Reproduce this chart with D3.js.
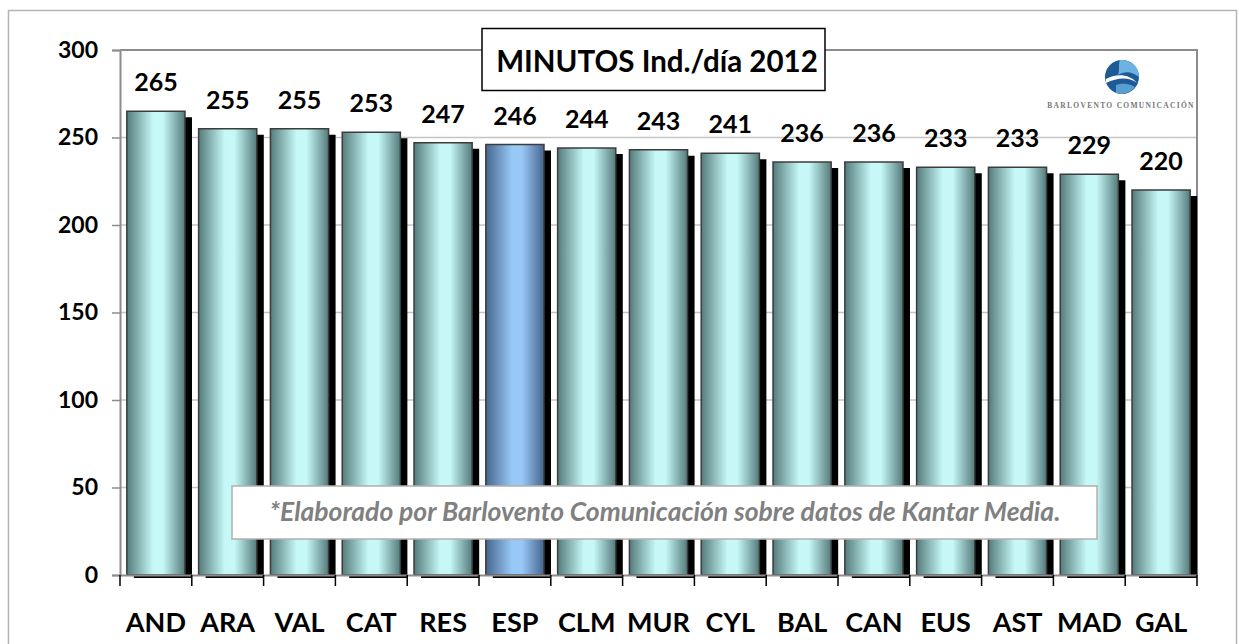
<!DOCTYPE html>
<html><head><meta charset="utf-8">
<script src="https://cdn.jsdelivr.net/npm/d3@7"></script>
<style>body{margin:0;background:#fff}svg{display:block}</style>
</head><body>
<script>
const categories = ["AND","ARA","VAL","CAT","RES","ESP","CLM","MUR","CYL","BAL","CAN","EUS","AST","MAD","GAL"];
const values = [265,255,255,253,247,246,244,243,241,236,236,233,233,229,220];
const highlight = ["ESP"];
const yTicks = [0,50,100,150,200,250,300];
const titleText = "MINUTOS Ind./día 2012";
const noteText = "*Elaborado por Barlovento Comunicación sobre datos de Kantar Media.";
const logoText = "BARLOVENTO COMUNICACIÓN";

const W = 1239, H = 644;
const m = {left:120, right:W-1197, top:50, bottom:H-575};
const svg = d3.select("body").append("svg").attr("width",W).attr("height",H);
const font = "Lato, 'Open Sans', sans-serif";

const defs = svg.append("defs");
function grad(id, edge, mid){
  const g = defs.append("linearGradient").attr("id",id).attr("x1","0%").attr("x2","100%").attr("y1","0%").attr("y2","0%");
  g.append("stop").attr("offset","0%").attr("stop-color",edge);
  g.append("stop").attr("offset","45%").attr("stop-color",mid);
  g.append("stop").attr("offset","62%").attr("stop-color",mid);
  g.append("stop").attr("offset","100%").attr("stop-color",edge);
}
grad("gTeal","#557b7b","#c6f8f8");
grad("gBlue","#46668e","#98c8f6");

// outer frame
svg.append("rect").attr("x",8.5).attr("y",10.5).attr("width",1228).attr("height",650)
  .attr("fill","#fff").attr("stroke","#b4b4b4").attr("stroke-width",1.5);

const x = d3.scaleBand().domain(categories).range([m.left, W-m.right]).paddingInner(0).paddingOuter(0);
const y = d3.scaleLinear().domain([0,300]).range([H-m.bottom, m.top]);

// gridlines
svg.append("g").selectAll("line").data(yTicks.filter(t=>t>0 && t<300)).join("line")
  .attr("x1",m.left).attr("x2",W-m.right).attr("y1",d=>y(d)).attr("y2",d=>y(d))
  .attr("stroke","#c4c4c4").attr("stroke-width",1.5);
// plot border top & right
svg.append("path").attr("d",`M${m.left},${y(300)}H${W-m.right}V${y(0)}`)
  .attr("fill","none").attr("stroke","#8c8c8c").attr("stroke-width",2);

const bw = x.bandwidth()*0.81;
const off = (x.bandwidth()-bw)/2;
const bars = svg.append("g").selectAll("g").data(categories).join("g");
bars.append("rect").attr("x",d=>x(d)+off+7).attr("y",(d,i)=>y(values[i])+6)
  .attr("width",bw).attr("height",(d,i)=>y(0)-y(values[i])-3).attr("fill","#000");
bars.append("rect").attr("x",d=>x(d)+off).attr("y",(d,i)=>y(values[i]))
  .attr("width",bw).attr("height",(d,i)=>y(0)-y(values[i]))
  .attr("fill",d=>highlight.includes(d)?"url(#gBlue)":"url(#gTeal)")
  .attr("stroke","#3c3c3c").attr("stroke-width",1.5);

// axes
const ya = svg.append("g").attr("transform",`translate(${m.left},0)`)
  .call(d3.axisLeft(y).tickValues(yTicks).tickSize(8).tickPadding(14));
ya.select(".domain").attr("stroke","#8c8c8c").attr("stroke-width",2);
ya.selectAll(".tick line").attr("stroke","#8c8c8c").attr("stroke-width",1.5);
ya.selectAll("text").attr("font-family",font).attr("font-weight","bold").attr("font-size",23).attr("fill","#000");

const xa = svg.append("g").attr("transform",`translate(0,${y(0)})`)
  .call(d3.axisBottom(x).tickSize(0).tickPadding(38));
xa.select(".domain").attr("stroke","#8c8c8c").attr("stroke-width",2);
xa.selectAll("text").attr("font-family",font).attr("font-weight","bold").attr("font-size",27).attr("fill","#000");
svg.append("g").selectAll("line").data(categories.concat(["_end"])).join("line")
  .attr("x1",(d,i)=>m.left+i*x.step()).attr("x2",(d,i)=>m.left+i*x.step())
  .attr("y1",y(0)).attr("y2",y(0)+11).attr("stroke","#000").attr("stroke-width",1.5);

// value labels
svg.append("g").selectAll("text").data(categories).join("text")
  .attr("x",d=>x(d)+x.bandwidth()/2).attr("y",(d,i)=>y(values[i])-20)
  .attr("text-anchor","middle").attr("font-family",font).attr("font-weight","bold").attr("font-size",25)
  .attr("fill","#000").text((d,i)=>values[i]);

// title box
svg.append("rect").attr("x",482).attr("y",28.5).attr("width",343).attr("height",62)
  .attr("fill","#fff").attr("stroke","#000").attr("stroke-width",1.5);
svg.append("text").attr("x",657).attr("y",72).attr("text-anchor","middle")
  .attr("font-family",font).attr("font-weight","bold").attr("font-size",29.5).attr("fill","#000").text(titleText);

// note box
svg.append("rect").attr("x",232).attr("y",486).attr("width",865).attr("height",53)
  .attr("fill","#fff").attr("stroke","#b0b0b0").attr("stroke-width",1.5);
svg.append("text").attr("x",665).attr("y",521).attr("text-anchor","middle")
  .attr("font-family",font).attr("font-weight","bold").attr("font-style","italic").attr("font-size",26.5)
  .attr("fill","#808080").text(noteText);

// logo
const lg = svg.append("g").attr("transform","translate(1122,77)");
lg.append("circle").attr("r",17).attr("fill","#1d5a96");
lg.append("path").attr("d","M-2,-17 A17,17 0 0 1 17,0 C10,-6 2,-6 -4,-2 C-2,-8 -4,-13 -2,-17Z").attr("fill","#6cb2e2");
lg.append("path").attr("d","M-16,2 C-6,-4 8,-3 15,6 C8,0 -4,0 -16,6Z").attr("fill","#fff");
lg.append("path").attr("d","M-6,8 C2,5 10,8 13,10 A17,17 0 0 1 -6,16Z").attr("fill","#5a9fd2");
svg.append("text").attr("x",1121).attr("y",108).attr("text-anchor","middle")
  .attr("font-family","'Liberation Serif', serif").attr("font-size",7.5).attr("font-weight","bold").attr("letter-spacing",1.3)
  .attr("fill","#777").text(logoText);
</script>
</body></html>
